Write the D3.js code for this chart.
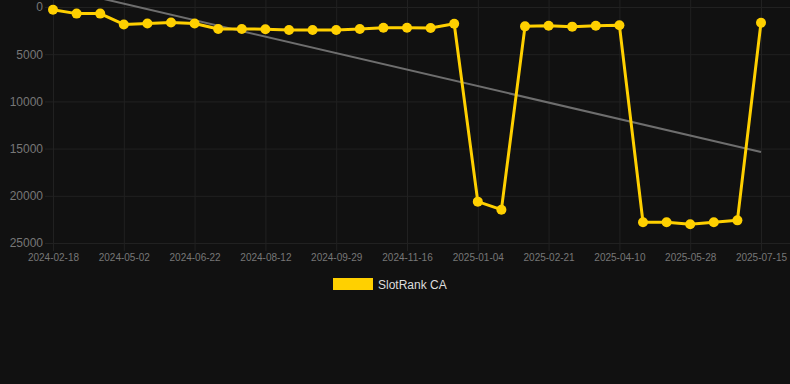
<!DOCTYPE html>
<html lang="en">
<head>
    <meta charset="UTF-8">
    <title>SlotRank CA</title>
    <script src="https://cdn.jsdelivr.net/npm/d3@7"></script>
    <style>
        body { margin: 0; background: #111111; }
        svg { display: block; font-family: "Liberation Sans", Arial, sans-serif; }
        .grid line { stroke: #212121; stroke-width: 1px; }
        .axis text { fill: #777777; }
        .axis path, .axis line { display: none; }
    </style>
</head>
<body>
    <svg width="790" height="384"></svg>

    <script>
        // Dates (categories), every third one gets a label
        var dates = [
            "2024-02-18", "2024-03-13", "2024-04-07", "2024-05-02", "2024-05-19", "2024-06-05",
            "2024-06-22", "2024-07-09", "2024-07-26", "2024-08-12", "2024-08-28", "2024-09-13",
            "2024-09-29", "2024-10-15", "2024-10-31", "2024-11-16", "2024-12-02", "2024-12-18",
            "2025-01-04", "2025-01-20", "2025-02-05", "2025-02-21", "2025-03-09", "2025-03-25",
            "2025-04-10", "2025-04-26", "2025-05-12", "2025-05-28", "2025-06-13", "2025-06-29",
            "2025-07-15"
        ];

        var rank = [
            300, 700, 700, 1850, 1750, 1650, 1750, 2330, 2330, 2350, 2440, 2440,
            2440, 2330, 2190, 2190, 2220, 1770, 20620, 21470, 2050, 1980, 2080, 1980,
            1940, 22800, 22800, 23020, 22800, 22600, 1660
        ];

        // trend line, first and last value
        var trend = [-2100, 15360];

        var yTicks = [0, 5000, 10000, 15000, 20000, 25000];

        var width = 790,
            height = 384;

        var svg = d3.select("svg");

        var x = d3.scalePoint()
            .domain(dates)
            .range([53, 761]);

        var y = d3.scaleLinear()
            .domain([0, 25000])
            .range([7, 243]);

        var labelDates = dates.filter(function(d, i) { return i % 3 === 0; });

        // Gridlines
        svg.append("g")
            .attr("class", "grid")
            .selectAll("line")
            .data(yTicks)
            .enter().append("line")
            .attr("x1", 45)
            .attr("x2", width)
            .attr("y1", function(d) { return y(d) + 0.5; })
            .attr("y2", function(d) { return y(d) + 0.5; });

        svg.append("g")
            .attr("class", "grid")
            .selectAll("line")
            .data(labelDates)
            .enter().append("line")
            .attr("x1", function(d) { return x(d) + 0.5; })
            .attr("x2", function(d) { return x(d) + 0.5; })
            .attr("y1", 0)
            .attr("y2", 251);

        // Axes
        svg.append("g")
            .attr("class", "axis")
            .attr("transform", "translate(48,0)")
            .call(d3.axisLeft(y).tickValues(yTicks).tickFormat(d3.format("d")).tickSize(0).tickPadding(5))
            .selectAll("text")
            .style("font-size", "12px");

        svg.append("g")
            .attr("class", "axis")
            .attr("transform", "translate(0,248)")
            .call(d3.axisBottom(x).tickValues(labelDates).tickSize(0).tickPadding(6))
            .selectAll("text")
            .style("font-size", "10px");

        // Trend line
        svg.append("line")
            .attr("x1", x(dates[0]))
            .attr("x2", x(dates[dates.length - 1]))
            .attr("y1", y(trend[0]))
            .attr("y2", y(trend[1]))
            .attr("stroke", "#6e6e6e")
            .attr("stroke-width", 2);

        // Series
        var line = d3.line()
            .x(function(d, i) { return x(dates[i]); })
            .y(function(d) { return y(d); });

        svg.append("path")
            .datum(rank)
            .attr("fill", "none")
            .attr("stroke", "#ffd000")
            .attr("stroke-width", 3)
            .attr("stroke-linejoin", "round")
            .attr("d", line);

        svg.append("g")
            .selectAll("circle")
            .data(rank)
            .enter().append("circle")
            .attr("cx", function(d, i) { return x(dates[i]); })
            .attr("cy", function(d) { return y(d); })
            .attr("r", 5)
            .attr("fill", "#ffd000");

        // Legend
        var legend = svg.append("g").attr("transform", "translate(333,278)");
        legend.append("rect")
            .attr("width", 40)
            .attr("height", 12)
            .attr("fill", "#ffd000");
        legend.append("text")
            .attr("x", 45)
            .attr("y", 10.5)
            .attr("fill", "#dddddd")
            .style("font-size", "12px")
            .text("SlotRank CA");
    </script>
</body>
</html>
